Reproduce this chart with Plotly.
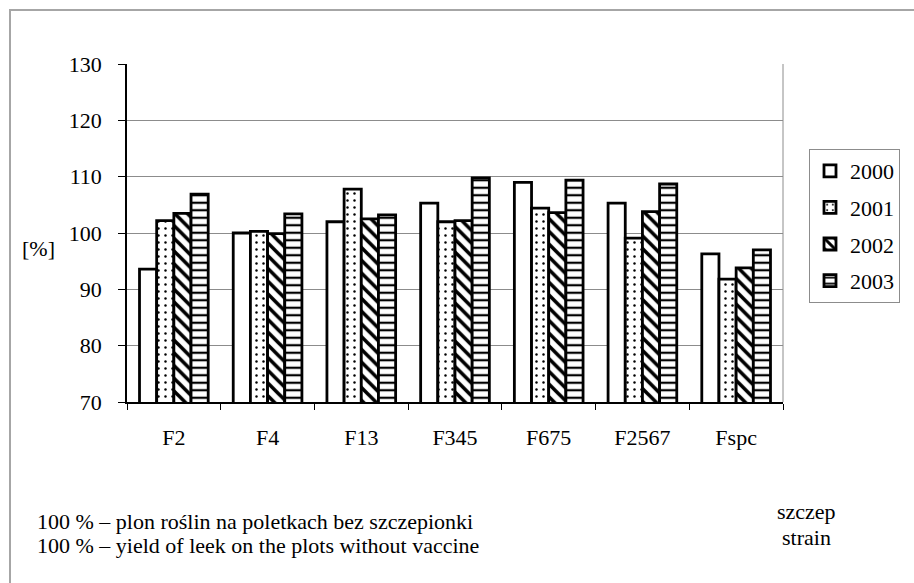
import plotly.graph_objects as go

# Strains and relative yield (%) per year
categories = ["F2", "F4", "F13", "F345", "F675", "F2567", "Fspc"]
years = ["2000", "2001", "2002", "2003"]
y2000 = [93.6, 100.0, 102.0, 105.3, 109.0, 105.3, 96.3]
y2001 = [102.2, 100.3, 107.8, 102.0, 104.4, 99.1, 91.8]
y2002 = [103.5, 99.9, 102.5, 102.2, 103.6, 103.8, 93.8]
y2003 = [106.9, 103.4, 103.2, 109.8, 109.4, 108.7, 97.0]
y_ticks = [70, 80, 90, 100, 110, 120, 130]

series = [y2000, y2001, y2002, y2003]
patterns = [
    dict(shape=""),
    dict(shape=".", size=7, solidity=0.1, fgcolor="black", bgcolor="white", fillmode="replace"),
    dict(shape="\\", size=9, solidity=0.4, fgcolor="black", bgcolor="white", fillmode="replace"),
    dict(shape="-", size=7.5, solidity=0.3, fgcolor="black", bgcolor="white", fillmode="replace"),
]

FONT = "Liberation Serif"
FS = 22
W, H = 914, 583
L, R, T, B = 127, 131, 64, 181
PW, PH = W - L - R, H - T - B

fig = go.Figure()
for name, vals, pat in zip(years, series, patterns):
    fig.add_trace(go.Bar(
        x=categories, y=vals, name=name,
        legendgroup=name,
        marker=dict(color="white", line=dict(color="black", width=2.8), pattern=pat),
    ))


def px_x(p):
    return (p - L) / PW


def px_y(p):
    return (H - B - p) / PH


shapes = [
    # outer chart frame
    dict(type="rect", xref="paper", yref="paper",
         x0=px_x(10), x1=px_x(W + 20), y0=px_y(H + 20), y1=px_y(10),
         line=dict(color="#a6a6a6", width=2), layer="below"),
    # right edge of plot area
    dict(type="line", xref="paper", yref="paper", x0=1, x1=1, y0=0, y1=1,
         line=dict(color="#8c8c8c", width=1)),
]

annotations = [
    dict(text="[%]", x=px_x(38), y=px_y(248), xref="paper", yref="paper",
         showarrow=False, xanchor="center", yanchor="middle"),
    dict(text="100 % – plon roślin na poletkach bez szczepionki", x=px_x(35), y=px_y(521),
         xref="paper", yref="paper", showarrow=False, xanchor="left", yanchor="middle"),
    dict(text="100 % – yield of leek on the plots without vaccine", x=px_x(35), y=px_y(545),
         xref="paper", yref="paper", showarrow=False, xanchor="left", yanchor="middle"),
    dict(text="szczep", x=px_x(806), y=px_y(511), xref="paper", yref="paper",
         showarrow=False, xanchor="center", yanchor="middle"),
    dict(text="strain", x=px_x(806), y=px_y(537), xref="paper", yref="paper",
         showarrow=False, xanchor="center", yanchor="middle"),
]

fig.update_layout(
    width=W, height=H,
    margin=dict(l=L, r=R, t=T, b=B),
    paper_bgcolor="white", plot_bgcolor="white",
    font=dict(family=FONT, size=FS, color="black"),
    barmode="group", bargap=0.267, bargroupgap=0,
    shapes=shapes, annotations=annotations,
    legend=dict(
        x=px_x(809), y=px_y(149), xanchor="left", yanchor="top",
        bgcolor="white", bordercolor="#8c8c8c", borderwidth=1,
        font=dict(family=FONT, size=FS, color="black"), tracegroupgap=5,
        traceorder="grouped",
    ),
    xaxis=dict(
        showline=True, linecolor="black", linewidth=1.5,
        ticks="outside", ticklen=6, tickcolor="black", tickson="boundaries",
        tickfont=dict(family=FONT, size=FS, color="black"),
        ticklabelstandoff=15, showgrid=False,
    ),
    yaxis=dict(
        range=[70, 130], tickvals=y_ticks,
        showline=True, linecolor="black", linewidth=1.5,
        ticks="outside", ticklen=7, tickcolor="black",
        tickfont=dict(family=FONT, size=FS, color="black"),
        ticklabelstandoff=12,
        showgrid=True, gridcolor="#8c8c8c", gridwidth=1, zeroline=False,
    ),
)

fig.write_html("out.html")
